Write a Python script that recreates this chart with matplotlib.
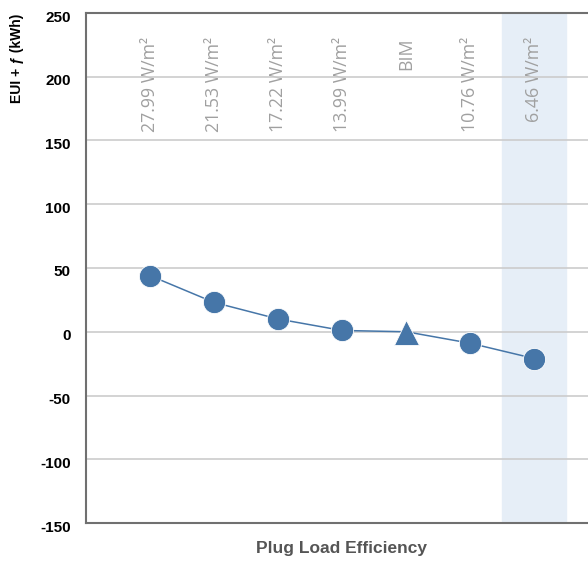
import matplotlib
matplotlib.use("Agg")
import matplotlib.pyplot as plt
from matplotlib import font_manager
from matplotlib.transforms import ScaledTranslation

# Plug load scenarios and their EUI values
categories = ["27.99 W/m²", "21.53 W/m²", "17.22 W/m²", "13.99 W/m²", "BIM", "10.76 W/m²", "6.46 W/m²"]
eui_values = [44, 23, 10, 1, 0, -9, -21]
bim_label = "BIM"
highlight_label = "6.46 W/m²"
yticks = [-150, -100, -50, 0, 50, 100, 150, 200, 250]

available = {f.name for f in font_manager.fontManager.ttflist}
sans = [f for f in ["Liberation Sans", "DejaVu Sans"] if f in available]
label_font = [f for f in ["Open Sans", "DejaVu Sans"] if f in available]

line_color = "#4676a8"

fig = plt.figure(figsize=(5.88, 5.61), dpi=100)
ax = fig.add_axes([86 / 588, 38 / 561, 502 / 588, 510 / 561])

x = list(range(len(categories)))
ax.set_xlim(-1.0, 6.84)
ax.set_ylim(-150, 250)

# highlighted scenario band
hi = categories.index(highlight_label)
ax.axvspan(hi - 0.5, hi + 0.5, color="#e6eef7", zorder=0)

for yv in yticks[1:-1]:
    ax.axhline(yv, color="#cccccc", lw=1.2, zorder=1)

ax.plot(x, eui_values, color=line_color, lw=1.1, zorder=3)
for xi, (cat, v) in enumerate(zip(categories, eui_values)):
    if cat == bim_label:
        ax.plot(xi, v, marker="^", ms=18, color=line_color, mec="white", mew=0.6, zorder=4)
    else:
        ax.plot(xi, v, marker="o", ms=16, color=line_color, mec="white", mew=0.6, zorder=4)
    ax.text(xi, 231, cat, rotation=90, ha="center", va="top", color="#a0a0a0",
            fontsize=12.8, family=label_font, zorder=0.5)

ax.set_yticks(yticks)
ax.set_yticklabels([str(v) for v in yticks], fontsize=11, fontweight="bold", family=sans)
ax.tick_params(axis="y", length=0, pad=11)
shift = ScaledTranslation(0, -3 / 100, fig.dpi_scale_trans)
for lbl in ax.get_yticklabels():
    lbl.set_transform(lbl.get_transform() + shift)
ax.set_xticks([])

for side in ["left", "bottom", "top"]:
    ax.spines[side].set_color("#707070")
    ax.spines[side].set_linewidth(1.5)
ax.spines["right"].set_visible(False)

fig.text(342 / 588, 1 - 548 / 561, "Plug Load Efficiency", ha="center", va="center",
         fontsize=12.5, fontweight="bold", color="#555555", family=sans)
fig.text(17 / 588, 1 - 58 / 561, "EUI + ƒ (kWh)", ha="center", va="center", rotation=90,
         fontsize=10, fontweight="bold", color="#000000", family=sans)

fig.savefig("out.png", dpi=100)
